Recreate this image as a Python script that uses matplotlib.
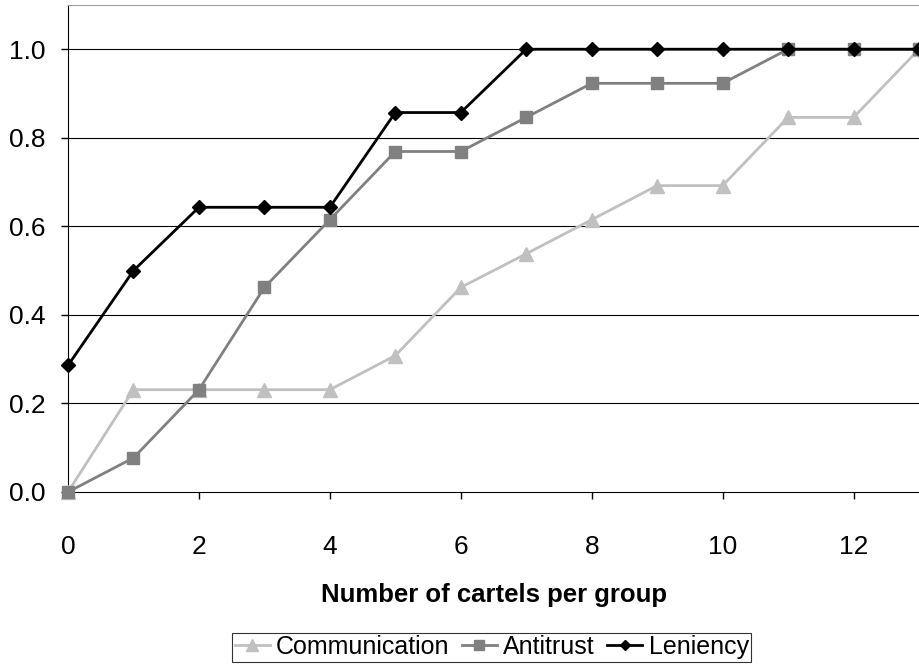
import matplotlib
matplotlib.use("Agg")
import matplotlib.pyplot as plt

plt.rcParams["font.family"] = ["Liberation Sans", "DejaVu Sans"]

# données
cartels = list(range(14))
communication = [0, 0.231, 0.231, 0.231, 0.231, 0.308, 0.462, 0.538, 0.615, 0.692, 0.692, 0.846, 0.846, 1.0]
antitrust = [0, 0.077, 0.231, 0.462, 0.615, 0.769, 0.769, 0.846, 0.923, 0.923, 0.923, 1.0, 1.0, 1.0]
leniency = [0.286, 0.5, 0.643, 0.643, 0.643, 0.857, 0.857, 1.0, 1.0, 1.0, 1.0, 1.0, 1.0, 1.0]
xticks = [0, 2, 4, 6, 8, 10, 12]
yticks = [0.0, 0.2, 0.4, 0.6, 0.8, 1.0]

fig = plt.figure(figsize=(9.19, 6.69), dpi=100)
ax = fig.add_axes([0.074, 0.2646, 0.926, 0.728])

ax.plot(cartels, communication, color="#c0c0c0", lw=2, marker="^", ms=10,
        label="Communication", clip_on=False, zorder=3)
ax.plot(cartels, antitrust, color="#808080", lw=2, marker="s", ms=9,
        label="Antitrust", clip_on=False, zorder=4)
ax.plot(cartels, leniency, color="black", lw=2, marker="D", ms=7,
        label="Leniency", clip_on=False, zorder=5)

ax.set_xlim(0, 13)
ax.set_ylim(0, 1.1)
ax.set_xticks(xticks)
ax.set_yticks(yticks)
ax.set_yticklabels(["%.1f" % v for v in yticks])
ax.tick_params(labelsize=19, direction="out", length=5, width=1, color="black")
ax.tick_params(axis="y", pad=11)
ax.tick_params(axis="x", pad=26)
for v in yticks[1:]:
    ax.axhline(v, color="black", lw=0.8, zorder=1)

ax.spines["top"].set_color("#a0a0a0")
ax.spines["right"].set_visible(False)
ax.spines["left"].set_color("black")
ax.spines["bottom"].set_color("black")

ax.set_xlabel("Number of cartels per group", fontsize=18.5, fontweight="bold", labelpad=17)

leg = fig.legend(loc="lower center", bbox_to_anchor=(0.535, 0.0), ncol=3, fontsize=18,
                 frameon=True, fancybox=False, edgecolor="black", handlelength=1.4,
                 handletextpad=0.25, columnspacing=0.5, borderpad=0.1, borderaxespad=0.3,
                 markerscale=0.8)
leg.get_frame().set_linewidth(0.8)

fig.savefig("out.png", dpi=100)
